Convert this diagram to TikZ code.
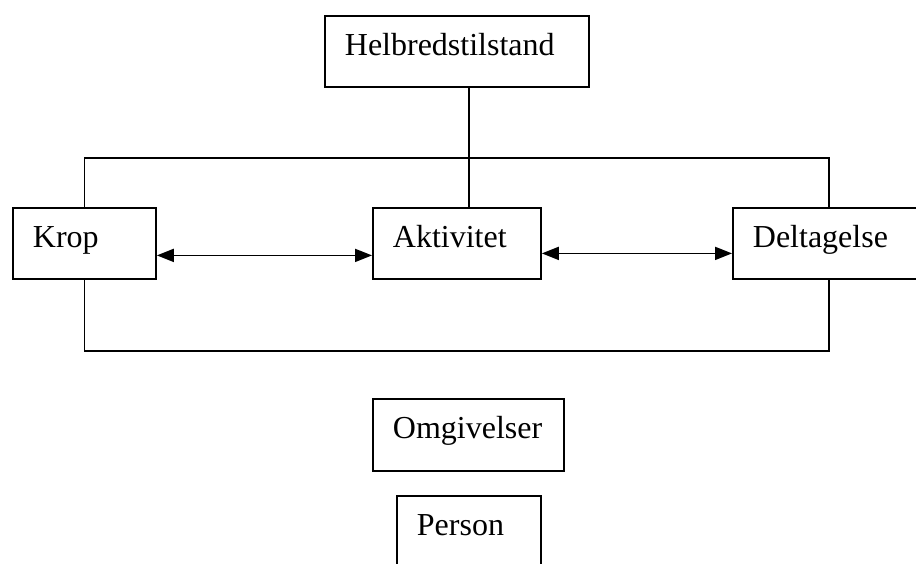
\documentclass[tikz,border=0pt]{standalone}
\usepackage{fontspec}
\setmainfont{Liberation Serif}
\usetikzlibrary{arrows.meta}
\tikzset{
    boks/.style={
        draw, line width=1.8pt, anchor=north west,
        inner xsep=20pt, inner ysep=0pt,
        text height=22pt, text depth=14pt,
        align=left, minimum height=71pt,
        font=\fontsize{32}{38}\selectfont
    },
    linje/.style={line width=1.8pt},
    pil/.style={line width=1.8pt, {Triangle[length=17pt,width=13pt]}-{Triangle[length=17pt,width=13pt]}},
}

\begin{document}
\begin{tikzpicture}[x=1pt,y=-1pt]
    \useasboundingbox (0,0) rectangle (916,563);
    \clip (0,0) rectangle (916,563);

    % Boxes
    \node[boks, text width=224pt] (helbred) at (324,15)  {Helbredstilstand};
    \node[boks, text width=103pt] (krop)    at (12,207)  {Krop};
    \node[boks, text width=128pt] (akt)     at (372,207) {Aktivitet};
    \node[boks, text width=152pt] (delt)    at (732,207) {Deltagelse};
    \node[boks, text width=151pt, minimum height=72pt] (omg) at (372,398) {Omgivelser};
    \node[boks, text width=104pt, minimum height=72pt] (pers) at (396,495) {Person};

    % frame coordinates
    \coordinate (top) at (0,158);
    \coordinate (bund) at (0,351);

    % Lines
    \draw[linje] ([xshift=12pt]helbred.south) -- ([xshift=12pt]akt.north);
    \draw[linje] (krop.north) |- (top -| delt.north) -- (delt.north);
    \draw[linje] (krop.south) |- (bund -| delt.south) -- (delt.south);

    % Arrows
    \draw[pil] ([yshift=-12pt]krop.east) -- ([yshift=-12pt]akt.west);
    \draw[pil] ([yshift=-10pt]akt.east) -- ([yshift=-10pt]delt.west);
\end{tikzpicture}
\end{document}
